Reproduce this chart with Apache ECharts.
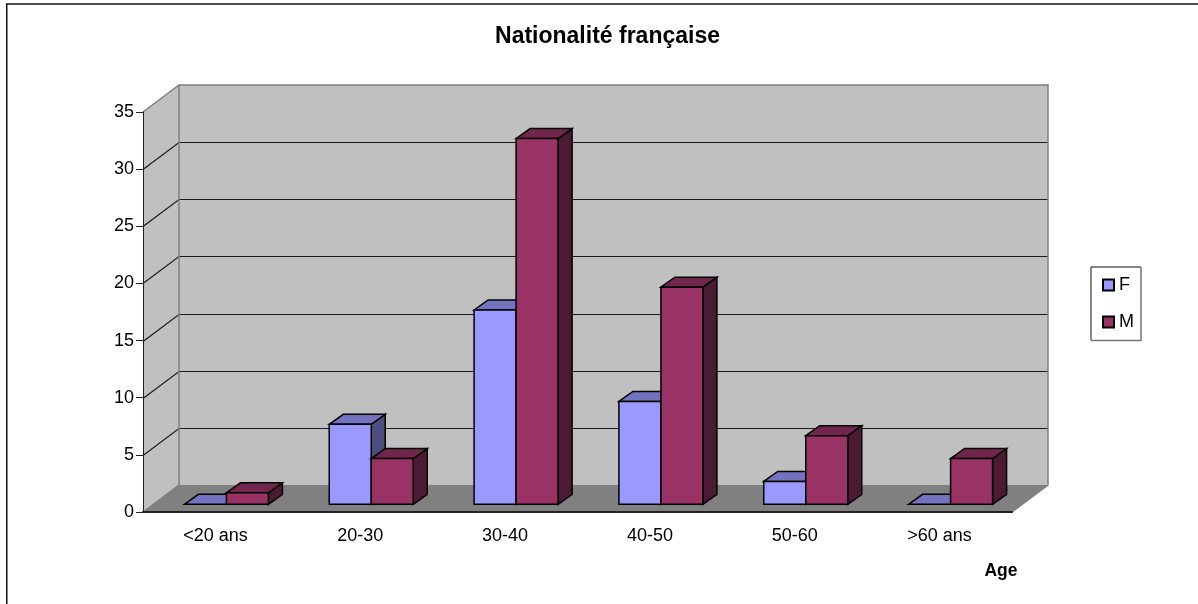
<!DOCTYPE html>
<html>
<head>
<meta charset="utf-8">
<style>html,body{margin:0;padding:0;background:#fff}#c{width:1198px;height:604px}</style>
<script src="https://cdn.jsdelivr.net/npm/echarts@6/dist/echarts.min.js"></script>
</head>
<body>
<div id="c"></div>
<script>
// Age groups and head counts for each sex
const categories = ['<20 ans', '20-30', '30-40', '40-50', '50-60', '>60 ans'];
const valuesF = [0, 7, 17, 9, 2, 0];
const valuesM = [1, 4, 32, 19, 6, 4];
const axisTicks = [0, 5, 10, 15, 20, 25, 30, 35];

const FONT = '"Liberation Sans", Arial, sans-serif';

// Oblique projection of the 3D box: offset from front plane to back wall
const WALL_DX = 36, WALL_DY = -27;
// Bars stand a little behind the front plane and have a fixed depth
const BAR_INSET_X = 11, BAR_INSET_Y = -7.7;
const BAR_DX = 14, BAR_DY = -10;
const BAR_BAND = 0.29;

const chart = echarts.init(document.getElementById('c'), null, { renderer: 'canvas' });

function poly(points, fill, stroke, width) {
  return {
    type: 'polygon',
    shape: { points },
    style: { fill, stroke: stroke || null, lineWidth: width || 0, lineJoin: 'miter' }
  };
}
function line(points, stroke, width) {
  return {
    type: 'polyline',
    shape: { points },
    style: { fill: null, stroke, lineWidth: width }
  };
}

// Floor, side wall, back wall and the gridlines that wrap around them
function renderBox(params, api) {
  const cs = params.coordSys;
  const L = cs.x, R = cs.x + cs.width, B = cs.y + cs.height, T = cs.y;
  const dx = WALL_DX, dy = WALL_DY;
  const wall = '#C0C0C0', edge = '#808080';
  const children = [
    poly([[L + dx, T + dy], [R + dx, T + dy], [R + dx, B + dy], [L + dx, B + dy]], wall),
    poly([[L, T], [L + dx, T + dy], [L + dx, B + dy], [L, B]], wall),
    poly([[L, B], [L + dx, B + dy], [R + dx, B + dy], [R, B]], edge)
  ];
  axisTicks.forEach(function (t) {
    if (t === 0 || t === axisTicks[axisTicks.length - 1]) return;
    const y = Math.round(api.coord([0, t])[1]) + 0.5;
    children.push(line([[L, y], [L + dx, y + dy], [R + dx, y + dy]], '#1a1a1a', 1.2));
  });
  children.push(line([[L, T], [L + dx, T + dy], [R + dx, T + dy], [R + dx, B + dy], [R, B]], edge, 1.5));
  children.push(line([[L + dx, T + dy], [L + dx, B + dy], [L, B]], edge, 1.5));
  return { type: 'group', children };
}

// One 3D bar: front face, top face, right face
function barRenderer(side, front, top, right) {
  return function (params, api) {
    const i = api.value(0);
    const v = api.value(1);
    const band = api.size([1, 0])[0];
    const c = api.coord([i, v]);
    const base = api.coord([i, 0]);
    const w = band * BAR_BAND;
    const x0 = c[0] + BAR_INSET_X + (side < 0 ? -w : 0);
    const x1 = x0 + w;
    const yB = base[1] + BAR_INSET_Y;
    const yT = c[1] + BAR_INSET_Y;
    const k = '#000', lw = 1.5;
    const kids = [];
    kids.push(poly([[x1, yB], [x1 + BAR_DX, yB + BAR_DY], [x1 + BAR_DX, yT + BAR_DY], [x1, yT]], right, k, lw));
    kids.push(poly([[x0, yT], [x0 + BAR_DX, yT + BAR_DY], [x1 + BAR_DX, yT + BAR_DY], [x1, yT]], top, k, lw));
    if (v > 0) kids.push(poly([[x0, yB], [x1, yB], [x1, yT], [x0, yT]], front, k, lw));
    return { type: 'group', children: kids };
  };
}

chart.setOption({
  animation: false,
  backgroundColor: '#fff',
  title: {
    text: 'Nationalité française',
    left: 602.5, top: 20, textAlign: 'center',
    textStyle: { fontFamily: FONT, fontSize: 23, fontWeight: 'bold', color: '#000' }
  },
  grid: { left: 143, right: 186, top: 112, bottom: 92 },
  legend: {
    orient: 'vertical', left: 1091, top: 267,
    padding: [9, 8, 12, 11], itemGap: 19,
    itemWidth: 11, itemHeight: 11, icon: 'rect',
    data: ['F', 'M'],
    textStyle: { fontFamily: FONT, fontSize: 18, color: '#000' },
    z: 6
  },
  xAxis: {
    type: 'category',
    data: categories,
    name: 'Age',
    nameLocation: 'end',
    nameGap: -11,
    nameTextStyle: { fontFamily: FONT, fontSize: 17.5, fontWeight: 'bold', color: '#000', align: 'center', verticalAlign: 'top', padding: [50, 0, 0, 0] },
    axisLine: { lineStyle: { color: '#222', width: 2 } },
    axisTick: { length: 8, lineStyle: { color: '#333' }, alignWithLabel: false },
    axisLabel: { fontFamily: FONT, fontSize: 18, color: '#000', margin: 15 },
    splitLine: { show: false },
    z: 6
  },
  yAxis: {
    type: 'value', min: 0, max: 35, interval: 5,
    axisLine: { show: true, lineStyle: { color: '#222' } },
    axisTick: { show: true, length: 7, lineStyle: { color: '#222' } },
    axisLabel: { fontFamily: FONT, fontSize: 18, color: '#000', margin: 9 },
    splitLine: { show: false },
    z: 6
  },
  graphic: [
    // Chart frame: only its top and left edges fall inside the page
    { type: 'polyline', silent: true, z: 0,
      shape: { points: [[6.75, 604], [6.75, 4], [1198, 4]] },
      style: { fill: null, stroke: '#111', lineWidth: 1.5 } },
    // Legend frame, dark on top and left, grey on the other two sides
    { type: 'rect', silent: true, z: 5,
      shape: { x: 1091, y: 267, width: 50, height: 73 },
      style: { fill: '#fff', stroke: null } },
    { type: 'polyline', silent: true, z: 5,
      shape: { points: [[1091, 340], [1091, 267], [1141, 267]] },
      style: { fill: null, stroke: '#111', lineWidth: 1 } },
    { type: 'polyline', silent: true, z: 5,
      shape: { points: [[1141, 267], [1141, 340.5], [1091, 340.5]] },
      style: { fill: null, stroke: '#777', lineWidth: 1.5 } }
  ],
  series: [
    { type: 'custom', name: 'box', z: 1, coordinateSystem: 'cartesian2d', silent: true, data: [[0, 0]], renderItem: renderBox, clip: false },
    { type: 'custom', name: 'F', z: 2, coordinateSystem: 'cartesian2d', itemStyle: { color: '#9999FF', borderColor: '#000', borderWidth: 1.5 },
      encode: { x: 0, y: 1 }, data: valuesF.map((v, i) => [i, v]),
      renderItem: barRenderer(-1, '#9999FF', '#7373BF', '#4D4D80'), clip: false },
    { type: 'custom', name: 'M', z: 3, coordinateSystem: 'cartesian2d', itemStyle: { color: '#993366', borderColor: '#000', borderWidth: 1.5 },
      encode: { x: 0, y: 1 }, data: valuesM.map((v, i) => [i, v]),
      renderItem: barRenderer(1, '#993366', '#73264D', '#4D1A33'), clip: false }
  ]
});
</script>
</body>
</html>
